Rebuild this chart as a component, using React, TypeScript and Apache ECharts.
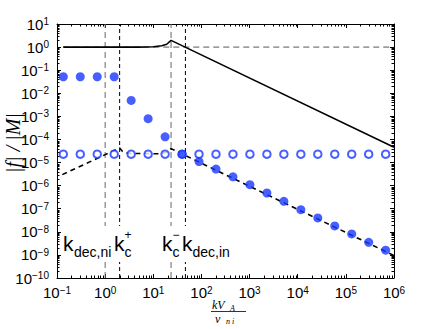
import React, { useEffect, useRef } from 'react';
import * as echarts from 'echarts';

// wavenumber samples (k V_A / nu_ni)
const kValues = [0.1352, 0.3043, 0.685, 1.542, 3.472, 7.816, 17.59, 39.61, 89.17, 200.7, 451.9, 1017, 2290, 5155, 11605, 26122, 58803, 132374, 297990, 670800];
// filled circles
const filledValues = [0.052, 0.052, 0.052, 0.052, 4.9e-3, 7.9e-4, 1.3e-4, 2.3e-5, 1.1e-5, 5.2e-6, 2.4e-6, 1.1e-6, 4.8e-7, 2.1e-7, 9.1e-8, 4.0e-8, 1.8e-8, 8.1e-9, 3.5e-9, 1.6e-9];
// open circles
const openValues = [2.3e-5, 2.3e-5, 2.3e-5, 2.3e-5, 2.3e-5, 2.3e-5, 2.3e-5, 2.3e-5, 2.3e-5, 2.3e-5, 2.3e-5, 2.3e-5, 2.3e-5, 2.3e-5, 2.3e-5, 2.3e-5, 2.3e-5, 2.3e-5, 2.3e-5, 2.3e-5];
// solid curve
const solidK = [0.135, 5, 10, 15, 19, 23.4, 1e6];
const solidF = [1.0, 1.0, 1.04, 1.15, 1.33, 1.95, 4.6e-5];
// dashed curve
const dashedK = [0.129, 2.0, 2.3, 3.0, 14, 18, 23.4, 1e6];
const dashedF = [3.0e-6, 4.3e-5, 3.0e-5, 2.5e-5, 2.4e-5, 2.7e-5, 4.0e-5, 9.4e-10];
// horizontal reference at |f|/|M| = 1
const refK = [0.135, 1e6];
const refF = [1, 1];
// vertical markers
const vLineK = [1.0, 2.0, 23.4, 46.5];
// axis ranges (decade exponents)
const xExpMin = -1;
const xExpMax = 6;
const yExpMin = -10;
const yExpMax = 1;

const SANS = 'Liberation Sans, Arial, sans-serif';
const SERIF = 'Liberation Serif, Times New Roman, serif';
const BLUE = '#1a37ff';

const zip = (a: number[], b: number[]) => a.map((v, i) => [v, b[i]]);

export default function App() {
  const ref = useRef<HTMLDivElement>(null);
  useEffect(() => {
    if (!ref.current) return;
    const chart = echarts.init(ref.current, undefined, { renderer: 'svg' });

    const minorData: number[][] = [];
    for (let n = xExpMin; n < xExpMax; n++) for (let m = 2; m <= 9; m++) minorData.push([m * Math.pow(10, n), 1, 0]);
    for (let n = yExpMin; n < yExpMax; n++) for (let m = 2; m <= 9; m++) minorData.push([1, m * Math.pow(10, n), 1]);

    const expFmt = (v: number) => {
      const e = Math.round(Math.log10(v));
      const s = e < 0 ? '\u2212' + Math.abs(e) : String(e);
      return `{b|10}{s|${s}}`;
    };
    const rich = {
      b: { fontSize: 15, fontFamily: SANS, color: '#000', verticalAlign: 'bottom', lineHeight: 15 },
      s: { fontSize: 10, fontFamily: SANS, color: '#000', verticalAlign: 'top', lineHeight: 10, padding: [0, 0, 7, 0] },
    };

    const axisCommon = {
      type: 'log',
      logBase: 10,
      splitLine: { show: false },
      axisLine: { show: true, lineStyle: { color: '#000', width: 1 } },
      axisTick: { show: true, inside: true, length: 4, lineStyle: { color: '#000' } },
    };

    const vColors = ['#666', '#000', '#666', '#000'];
    const vDash = [[6, 4], [4, 3], [6, 4], [4, 3]];

    const series: any[] = [];
    vLineK.forEach((k, i) => {
      series.push({
        type: 'line', silent: true, showSymbol: false, z: 1,
        data: [[k, Math.pow(10, yExpMin)], [k, Math.pow(10, yExpMax)]],
        lineStyle: { color: vColors[i], width: 1, type: vDash[i] },
      });
    });
    series.push({
      type: 'line', silent: true, showSymbol: false, z: 1,
      data: zip(refK, refF),
      lineStyle: { color: '#555', width: 1, type: [6, 4] },
    });
    series.push({
      type: 'line', silent: true, showSymbol: false, z: 2,
      data: zip(dashedK, dashedF),
      lineStyle: { color: '#000', width: 1.6, type: [5, 4] },
    });
    series.push({
      type: 'line', silent: true, showSymbol: false, z: 2,
      data: zip(solidK, solidF),
      lineStyle: { color: '#000', width: 1.6 },
    });
    series.push({
      type: 'scatter', silent: true, z: 3,
      data: zip(kValues, openValues),
      symbol: 'circle', symbolSize: 7.5,
      itemStyle: { color: '#fff', borderColor: BLUE, borderWidth: 2 },
    });
    series.push({
      type: 'scatter', silent: true, z: 4,
      data: zip(kValues, filledValues),
      symbol: 'circle', symbolSize: 9,
      itemStyle: { color: BLUE },
    });
    series.push({
      type: 'custom', silent: true, z: 5,
      data: minorData,
      renderItem: (params: any, api: any) => {
        const cs = params.coordSys;
        const L = 2.5;
        const st = { stroke: '#000', lineWidth: 1 };
        if (api.value(2) === 0) {
          const px = Math.round(api.coord([api.value(0), 1])[0]) + 0.5;
          return {
            type: 'group', children: [
              { type: 'line', shape: { x1: px, y1: cs.y + cs.height, x2: px, y2: cs.y + cs.height - L }, style: st },
              { type: 'line', shape: { x1: px, y1: cs.y, x2: px, y2: cs.y + L }, style: st },
            ],
          };
        }
        const py = Math.round(api.coord([1, api.value(1)])[1]) + 0.5;
        return {
          type: 'group', children: [
            { type: 'line', shape: { x1: cs.x, y1: py, x2: cs.x + L, y2: py }, style: st },
            { type: 'line', shape: { x1: cs.x + cs.width, y1: py, x2: cs.x + cs.width - L, y2: py }, style: st },
          ],
        };
      },
    });

    const labelBox = (x: number, w: number) => ({
      type: 'rect', z: 100, shape: { x, y: 226, width: w, height: 36 }, style: { fill: '#fff' },
    });
    const txt = (text: string, x: number, y: number, size: number, extra: any = {}) => ({
      type: 'text', z: 101, x, y,
      style: { text, fontSize: size, fontFamily: SANS, fill: '#000', align: 'left', verticalAlign: 'middle', ...extra },
    });

    const graphic: any[] = [
      labelBox(62, 46),
      txt('k', 63, 243, 21),
      txt('dec,ni', 74, 251.5, 14),
      labelBox(113, 20),
      txt('k', 114, 243, 21),
      txt('+', 124.5, 234.5, 12),
      txt('c', 124.5, 252, 14),
      labelBox(161, 20),
      txt('k', 162, 243, 21),
      txt('\u2212', 172.5, 234.5, 12),
      txt('c', 172.5, 252, 14),
      labelBox(180, 50),
      txt('k', 182, 243, 21),
      txt('dec,in', 192.5, 251.5, 14),
      // x-axis title (fraction)
      txt('kV', 212, 304.5, 12, { fontFamily: SERIF, fontStyle: 'italic' }),
      txt('A', 230, 308, 8, { fontFamily: SERIF, fontStyle: 'italic' }),
      { type: 'line', z: 101, shape: { x1: 211, y1: 311.5, x2: 246, y2: 311.5 }, style: { stroke: '#000', lineWidth: 0.8 } },
      txt('\u03bd', 215, 319, 12, { fontFamily: SERIF, fontStyle: 'italic' }),
      txt('n i', 226, 321.5, 8, { fontFamily: SERIF, fontStyle: 'italic' }),
      // y-axis title
      {
        type: 'text', z: 101, x: 13, y: 143, rotation: Math.PI / 2,
        style: { text: '|f| / |M|', fontSize: 20, fontFamily: SERIF, fontStyle: 'italic', fill: '#000', align: 'center', verticalAlign: 'middle' },
      },
    ];

    chart.setOption({
      animation: false,
      backgroundColor: '#fff',
      grid: { left: 57, top: 24, width: 337, height: 254, containLabel: false },
      xAxis: [
        {
          ...axisCommon, position: 'bottom',
          min: Math.pow(10, xExpMin), max: Math.pow(10, xExpMax), interval: 1, splitNumber: xExpMax - xExpMin,
          axisLabel: { show: true, margin: 7, formatter: expFmt, rich },
        },
        {
          ...axisCommon, position: 'top',
          min: Math.pow(10, xExpMin), max: Math.pow(10, xExpMax), interval: 1, splitNumber: xExpMax - xExpMin,
          axisLabel: { show: false },
        },
      ],
      yAxis: [
        {
          ...axisCommon, position: 'left',
          min: Math.pow(10, yExpMin), max: Math.pow(10, yExpMax), interval: 1, splitNumber: yExpMax - yExpMin,
          axisLabel: { show: true, margin: 8, formatter: expFmt, rich },
        },
        {
          ...axisCommon, position: 'right',
          min: Math.pow(10, yExpMin), max: Math.pow(10, yExpMax), interval: 1, splitNumber: yExpMax - yExpMin,
          axisLabel: { show: false },
        },
      ],
      series,
      graphic,
    });
    return () => chart.dispose();
  }, []);
  return <div ref={ref} style={{ position: 'fixed', left: 0, top: 0, width: 436, height: 329 }} />;
}
